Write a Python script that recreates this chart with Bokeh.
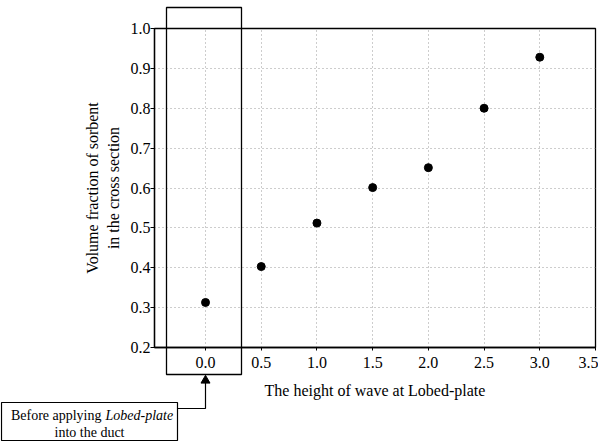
from bokeh.plotting import figure
from bokeh.models import Range1d, FixedTicker, ColumnDataSource
from bokeh.core.properties import value
from bokeh.embed import file_html
from bokeh.resources import INLINE

# data
wave_height = [0.0, 0.5, 1.0, 1.5, 2.0, 2.5, 3.0]
volume_fraction = [0.313, 0.403, 0.512, 0.601, 0.651, 0.800, 0.928]
x_ticks = [0.0, 0.5, 1.0, 1.5, 2.0, 2.5, 3.0, 3.5]
y_ticks = [0.2, 0.3, 0.4, 0.5, 0.6, 0.7, 0.8, 0.9, 1.0]
x_label = "The height of wave at Lobed-plate"
y_label = "Volume fraction of sorbent\nin the cross section"
note_plain = "Before applying"
note_italic = "Lobed-plate"
note_line2 = "into the duct"

FONT = "Liberation Serif"
W, H = 598, 441
BL, BR, BT, BB = 154, 3, 28, 94
X0, X1 = -0.458, 3.5
Y0, Y1 = 0.2, 1.0

p = figure(width=W, height=H, output_backend="svg", toolbar_location=None,
           x_range=Range1d(X0, X1), y_range=Range1d(Y0, Y1),
           min_border_left=BL, min_border_right=BR, min_border_top=BT, min_border_bottom=BB)

p.outline_line_color = "black"
p.outline_line_width = 1.3
p.background_fill_color = "white"
p.border_fill_color = "white"

for ax in (p.xaxis[0], p.yaxis[0]):
    ax.axis_line_color = "black"
    ax.axis_line_width = 1.3
    ax.major_tick_line_color = "black"
    ax.minor_tick_line_color = None
    ax.major_tick_in = 0
    ax.major_label_text_font = FONT
    ax.major_label_text_font_size = "16px"
    ax.major_label_text_color = "black"
    ax.axis_label_text_font = FONT
    ax.axis_label_text_font_size = "16px"
    ax.axis_label_text_font_style = "normal"
    ax.axis_label_text_color = "black"

p.xaxis.ticker = FixedTicker(ticks=x_ticks)
p.yaxis.ticker = FixedTicker(ticks=y_ticks)
p.xaxis.major_label_overrides = {t: f"{t:.1f}" for t in x_ticks}
p.yaxis.major_label_overrides = {t: f"{t:.1f}" for t in y_ticks}
p.xaxis.major_tick_out = 3
p.yaxis.major_tick_out = 4
p.xaxis.major_label_standoff = 6
p.yaxis.major_label_standoff = 0
p.xaxis.axis_label = x_label
p.xaxis.axis_label_standoff = 11
p.yaxis.axis_label = y_label
p.yaxis.axis_label_standoff = 6

for g in (p.xgrid[0], p.ygrid[0]):
    g.grid_line_color = "#9a9a9a"
    g.grid_line_dash = "1 3"
    g.grid_line_width = 1
p.xgrid.ticker = FixedTicker(ticks=x_ticks)
p.ygrid.ticker = FixedTicker(ticks=y_ticks)

src = ColumnDataSource(dict(x=wave_height, y=volume_fraction))
p.scatter("x", "y", source=src, size=8, color="black")

# ---- transparent overlay figure with the same scale, covering the whole canvas ----
kx = (X1 - X0) / (W - BL - BR)
ky = (Y1 - Y0) / (H - BT - BB)
q = figure(width=W, height=H, output_backend="svg", toolbar_location=None,
           x_range=Range1d(X0 - BL * kx, X1 + BR * kx),
           y_range=Range1d(Y0 - BB * ky, Y1 + BT * ky),
           min_border=0, x_axis_location=None, y_axis_location=None)
q.grid.visible = False
q.outline_line_color = None
q.background_fill_alpha = 0
q.border_fill_alpha = 0
q.styles = {"position": "absolute", "top": "0px", "left": "0px"}

def sx(px):
    return X0 + (px - BL) * kx

def sy(py):
    return Y0 + (H - BB - py) * ky

# frame around the 0.0 column
q.quad(left=[sx(166)], right=[sx(241)], top=[sy(7)], bottom=[sy(374)],
       fill_alpha=0, line_color="black", line_width=1.3)
# connector line and arrow head
q.line(x=[sx(177), sx(205), sx(205)], y=[sy(408), sy(408), sy(381)],
       line_color="black", line_width=1.2)
q.scatter(x=[sx(205)], y=[sy(380)], marker="triangle", size=9, color="black")
# note box
q.quad(left=[sx(1)], right=[sx(177)], top=[sy(402)], bottom=[sy(440)],
       fill_alpha=0, line_color="black", line_width=1.2)
q.text(x=[sx(101)], y=[sy(415)], text=[note_plain], text_font=value(FONT),
       text_font_size="14px", text_align="right", text_baseline="middle", text_color="black")
q.text(x=[sx(105)], y=[sy(415)], text=[note_italic], text_font=value(FONT),
       text_font_size="14px", text_font_style="italic", text_align="left",
       text_baseline="middle", text_color="black")
q.text(x=[sx(89)], y=[sy(432)], text=[note_line2], text_font=value(FONT),
       text_font_size="14px", text_align="center", text_baseline="middle", text_color="black")

open("out.html", "w").write(file_html([p, q], INLINE))
